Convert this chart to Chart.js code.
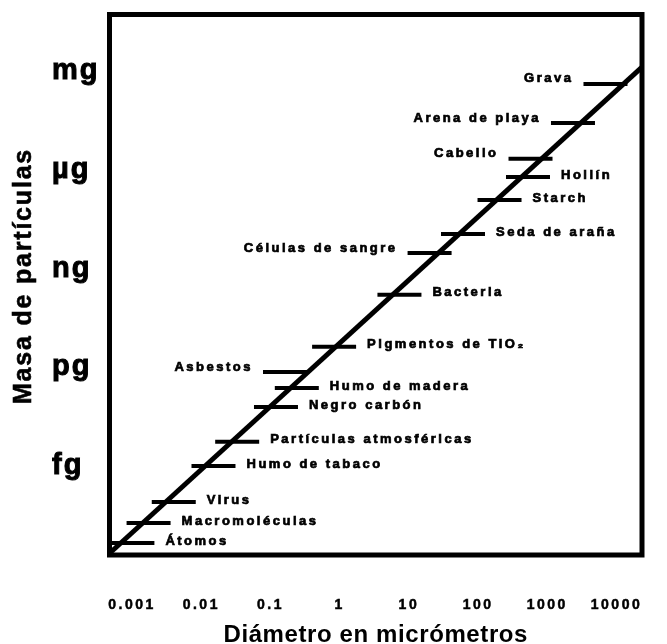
<!DOCTYPE html>
<html>
<head>
<meta charset="utf-8">
<script src="https://cdn.jsdelivr.net/npm/chart.js@4/dist/chart.umd.min.js"></script>
<style>
  html, body { margin: 0; padding: 0; background: #fff; }
  canvas { display: block; }
</style>
</head>
<body>
<canvas id="chart" width="667" height="644"></canvas>
<script>
// Partículas: diámetro (µm) y masa (g)
const particulas = ['Grava', 'Arena de playa', 'Cabello', 'Hollín', 'Starch', 'Seda de araña',
    'Células de sangre', 'Bacteria', 'Pigmentos de TiO₂', 'Asbestos', 'Humo de madera',
    'Negro carbón', 'Partículas atmosféricas', 'Humo de tabaco', 'Virus', 'Macromoléculas', 'Átomos'];
const diametros = [6930, 2350, 572, 526, 204, 60.5, 19.9, 7.3, 0.83, 0.162, 0.24,
    0.12, 0.033, 0.015, 0.004, 0.00173, 0.00101];
const masas = [4.2e-4, 2.7e-5, 2.2e-6, 6.2e-7, 1.23e-7, 1.14e-8, 3.0e-9, 1.6e-10, 4.2e-12, 7.2e-13, 2.35e-13,
    6.2e-14, 5.4e-15, 1.0e-15, 8.0e-17, 1.84e-17, 4.5e-18];
const ladoEtiqueta = ['izq', 'izq', 'izq', 'der', 'der', 'der', 'izq', 'der', 'der', 'izq', 'der',
    'der', 'der', 'der', 'der', 'der', 'der'];

// Recta masa-diámetro
const rectaDiametro = [4.95e-4, 23350];
const rectaMasa = [2.41e-18, 1.37e-3];

// Ejes
const xTicks = [0.001, 0.01, 0.1, 1, 10, 100, 1000, 10000];
const xTickLabels = ['0.001', '0.01', '0.1', '1', '10', '100', '1000', '10000'];
const yTicks = [1e-3, 1e-6, 1e-9, 1e-12, 1e-15];
const yTickLabels = ['mg', 'µg', 'ng', 'pg', 'fg'];
const xRango = [4.714e-4, 23360];
const yRango = [1.95e-18, 0.0542];

const FUENTE = '"Liberation Sans", Arial, sans-serif';

// Separación de letras para textos de los ejes (Chart.js no la maneja)
function conSeparacion(ctx, obj, name, sp) {
    const orig = obj[name];
    if (orig._sep) return;
    const f = function (...args) {
        const prev = ctx.letterSpacing;
        ctx.letterSpacing = sp;
        orig.apply(this, args);
        ctx.letterSpacing = prev;
    };
    f._sep = true;
    obj[name] = f;
}

const dibujoExtra = {
    id: 'dibujoExtra',
    beforeDraw(chart) {
        const ctx = chart.ctx;
        conSeparacion(ctx, chart.scales.x, 'drawLabels', '2.5px');
        conSeparacion(ctx, chart.scales.x, 'drawTitle', '0.6px');
        conSeparacion(ctx, chart.scales.y, 'drawLabels', '2px');
    },
    afterDatasetsDraw(chart) {
        const ctx = chart.ctx;
        const meta = chart.getDatasetMeta(1);
        ctx.save();
        ctx.font = 'bold 13px ' + FUENTE;
        ctx.letterSpacing = '2.5px';
        ctx.fillStyle = '#000';
        ctx.strokeStyle = '#000';
        ctx.lineWidth = 0.7;
        ctx.textBaseline = 'middle';
        meta.data.forEach((pt, i) => {
            const izq = ladoEtiqueta[i] === 'izq';
            ctx.textAlign = izq ? 'right' : 'left';
            const x = izq ? pt.x - 22 - 10 : pt.x + 22 + 11;
            const y = pt.y + (izq ? -5 : -2);
            ctx.fillText(particulas[i], x, y);
            ctx.strokeText(particulas[i], x, y);
        });
        // recuadro del gráfico
        const a = chart.chartArea;
        ctx.lineWidth = 5;
        ctx.strokeRect(a.left, a.top, a.right - a.left, a.bottom - a.top);
        ctx.restore();
    },
    afterDraw(chart) {
        // título del eje Y
        const ctx = chart.ctx;
        ctx.save();
        ctx.translate(24, 276);
        ctx.rotate(-Math.PI / 2);
        ctx.font = 'bold 25px ' + FUENTE;
        ctx.letterSpacing = '1.8px';
        ctx.fillStyle = '#000';
        ctx.strokeStyle = '#000';
        ctx.lineWidth = 0.6;
        ctx.textAlign = 'center';
        ctx.textBaseline = 'middle';
        ctx.fillText('Masa de partículas', 0, 0);
        ctx.strokeText('Masa de partículas', 0, 0);
        ctx.restore();
    }
};

new Chart(document.getElementById('chart'), {
    type: 'scatter',
    data: {
        datasets: [{
            data: rectaDiametro.map((d, i) => ({ x: d, y: rectaMasa[i] })),
            showLine: true,
            borderColor: '#000',
            borderWidth: 5,
            pointRadius: 0,
            pointHoverRadius: 0
        }, {
            data: diametros.map((d, i) => ({ x: d, y: masas[i] })),
            pointStyle: 'line',
            pointRadius: 22,
            pointHoverRadius: 22,
            pointBorderWidth: 4,
            pointHoverBorderWidth: 4,
            pointBorderColor: '#000',
            pointBackgroundColor: '#000'
        }]
    },
    options: {
        responsive: false,
        devicePixelRatio: 1,
        animation: false,
        events: [],
        layout: { autoPadding: false, padding: { left: 52, top: 14.5, right: 25, bottom: 0 } },
        plugins: {
            legend: { display: false },
            tooltip: { enabled: false }
        },
        scales: {
            x: {
                type: 'logarithmic',
                bounds: 'data',
                min: xRango[0],
                max: xRango[1],
                grid: { display: false, drawTicks: false },
                border: { display: false },
                afterBuildTicks: s => { s.ticks = xTicks.map(v => ({ value: v })); },
                afterFit: s => { s.height = 89; s.paddingLeft = 0; s.paddingRight = 0; },
                ticks: {
                    autoSkip: false,
                    maxRotation: 0,
                    padding: 41.6,
                    color: '#000',
                    textStrokeColor: '#000',
                    textStrokeWidth: 0.5,
                    font: { family: FUENTE, size: 14, weight: 'bold' },
                    callback: v => {
                        const i = xTicks.indexOf(v);
                        return i >= 0 ? xTickLabels[i] : '';
                    }
                },
                title: {
                    display: true,
                    text: 'Diámetro en micrómetros',
                    color: '#000',
                    padding: 0,
                    font: { family: FUENTE, size: 24, weight: 'bold', lineHeight: 0.75 }
                }
            },
            y: {
                type: 'logarithmic',
                bounds: 'data',
                min: yRango[0],
                max: yRango[1],
                grid: { display: false, drawTicks: false },
                border: { display: false },
                afterBuildTicks: s => { s.ticks = yTicks.map(v => ({ value: v })); },
                afterFit: s => { s.width = 57.5; s.paddingTop = 0; s.paddingBottom = 0; },
                ticks: {
                    autoSkip: false,
                    crossAlign: 'far',
                    color: '#000',
                    textStrokeColor: '#000',
                    textStrokeWidth: 1,
                    font: { family: FUENTE, size: 29, weight: 'bold' },
                    callback: v => {
                        const i = yTicks.indexOf(v);
                        return i >= 0 ? yTickLabels[i] : '';
                    }
                }
            }
        }
    },
    plugins: [dibujoExtra]
});
</script>
</body>
</html>
